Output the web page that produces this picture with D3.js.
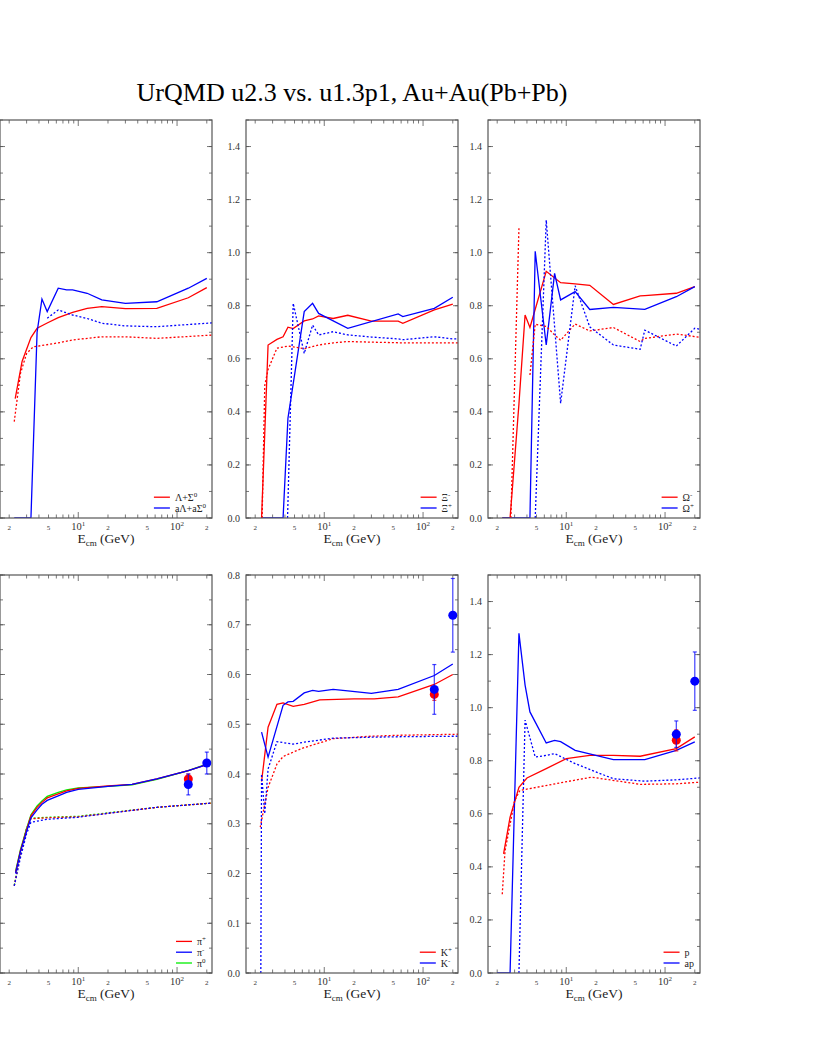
<!DOCTYPE html>
<html>
<head>
<meta charset="utf-8">
<script src="https://cdn.jsdelivr.net/npm/d3@7"></script>
<style>
  body { margin: 0; background: #fff; }
  svg { display: block; font-family: "Liberation Serif", "Times New Roman", serif; }
</style>
</head>
<body>
<svg id="chart" width="817" height="1058"></svg>
<script>
const title = "UrQMD u2.3 vs. u1.3p1, Au+Au(Pb+Pb)";

// [sqrt(s) GeV, ratio] ; solid = u2.3, dotted = u1.3p1
const lamU23 = [[2.3,0.45],[2.7,0.59],[3.32,0.68],[3.83,0.715],[4.85,0.735],[6.27,0.755],[8.77,0.775],[12.3,0.79],[17.3,0.797],[30,0.789],[62.4,0.79],[130,0.83],[200,0.868]];
const aLamU23 = [[2.25,0],[3.32,0],[3.83,0.70],[4.29,0.825],[4.85,0.778],[6.27,0.866],[7.62,0.86],[8.77,0.86],[12.3,0.847],[17.3,0.822],[30,0.809],[62.4,0.815],[130,0.866],[200,0.903]];
const lamU13 = [[2.25,0.363],[2.6,0.545],[3.0,0.62],[3.5,0.645],[6.27,0.66],[8.77,0.671],[17.3,0.683],[30,0.683],[62.4,0.677],[240,0.69]];
const aLamU13 = [[4.85,0.753],[6.27,0.784],[8.77,0.765],[12.3,0.752],[17.3,0.734],[30,0.724],[62.4,0.721],[240,0.736]];

const xiU23 = [[2.32,0],[2.7,0.652],[3.32,0.673],[3.83,0.683],[4.29,0.719],[4.85,0.714],[6.27,0.743],[7.62,0.75],[8.77,0.762],[12.3,0.752],[17.3,0.764],[30,0.742],[56,0.742],[62.4,0.734],[130,0.784],[200,0.806]];
const aXiU23 = [[2.32,0],[3.83,0],[4.29,0.376],[6.27,0.778],[7.62,0.809],[8.77,0.771],[17.3,0.715],[56,0.769],[62.4,0.759],[130,0.79],[200,0.832]];
const xiU13 = [[2.35,0],[2.5,0.5],[2.7,0.56],[3.32,0.64],[4.29,0.648],[4.85,0.645],[6.27,0.638],[8.77,0.652],[12.3,0.66],[17.3,0.665],[62.4,0.66],[130,0.66],[240,0.66]];
const aXiU13 = [[4.25,0],[4.85,0.809],[6.27,0.62],[7.62,0.727],[8.77,0.69],[12.3,0.702],[17.3,0.69],[30,0.682],[56,0.675],[62.4,0.672],[130,0.683],[200,0.675],[240,0.675]];

const omU23 = [[2.25,0],[2.7,0],[3.32,0.43],[3.83,0.765],[4.29,0.718],[6.27,0.93],[8.77,0.887],[12.3,0.882],[17.3,0.877],[30,0.805],[56,0.837],[62.4,0.838],[130,0.847],[200,0.872]];
const aOmU23 = [[2.25,0],[4.29,0],[4.85,1.005],[6.27,0.652],[7.62,0.922],[8.77,0.822],[12.3,0.853],[17.3,0.786],[30,0.794],[62.4,0.786],[130,0.834],[200,0.872]];
const omU13 = [[2.75,0],[3.32,1.092],[3.83,null],[4.29,0.539],[4.85,0.73],[6.27,0.722],[7.62,0.69],[8.77,0.67],[12.3,0.731],[17.3,0.705],[30,0.718],[56,0.665],[62.4,0.677],[130,0.693],[240,0.68]];
const aOmU13 = [[4.85,0],[6.27,1.123],[8.77,0.432],[12.3,0.875],[17.3,0.72],[30,0.652],[56,0.636],[62.4,0.708],[130,0.648],[200,0.715],[240,0.71]];

const piPlusU23 = [[2.32,0.202],[2.6,0.246],[3.0,0.288],[3.32,0.316],[3.83,0.333],[4.29,0.343],[4.85,0.352],[6.27,0.36],[7.62,0.366],[10,0.371],[20,0.376],[35,0.379],[62.4,0.39],[130,0.407],[200,0.419]];
const piMinusU23 = [[2.32,0.2],[2.6,0.244],[3.0,0.285],[3.32,0.312],[3.83,0.328],[4.29,0.339],[4.85,0.347],[6.27,0.356],[7.62,0.363],[10,0.369],[20,0.375],[35,0.379],[62.4,0.39],[130,0.407],[200,0.419]];
const piZeroU23 = [[2.32,0.204],[2.6,0.248],[3.0,0.29],[3.32,0.318],[3.83,0.336],[4.29,0.346],[4.85,0.355],[6.27,0.363],[7.62,0.368],[10,0.372],[20,0.375],[35,0.378],[62.4,0.389],[130,0.407],[200,0.42]];
const piPlusU13 = [[2.25,0.175],[2.6,0.239],[3.0,0.29],[3.32,0.31],[4.85,0.312],[10,0.314],[20,0.321],[62.4,0.333],[240,0.342]];
const piMinusU13 = [[2.25,0.175],[2.6,0.232],[3.0,0.28],[3.32,0.303],[4.85,0.309],[10,0.313],[20,0.321],[62.4,0.333],[240,0.342]];
const piZeroU13 = [[2.25,0.176],[2.6,0.24],[3.0,0.291],[3.32,0.311],[4.85,0.313],[10,0.315],[20,0.322],[62.4,0.333],[240,0.342]];

const kPlusU23 = [[2.32,0.385],[2.7,0.494],[3.32,0.54],[3.83,0.543],[4.85,0.536],[6.27,0.54],[9,0.549],[20,0.551],[32,0.551],[56,0.555],[130,0.58],[200,0.6]];
const kMinusU23 = [[2.32,0.484],[2.7,0.434],[3.83,0.538],[4.29,0.545],[4.85,0.546],[6.27,0.563],[7.62,0.568],[8.77,0.566],[12.3,0.57],[17.3,0.567],[30,0.562],[56,0.57],[130,0.598],[200,0.621]];
const kPlusU13 = [[2.25,0.293],[2.7,0.373],[3.32,0.42],[3.83,0.435],[4.85,0.444],[6.27,0.453],[12.3,0.471],[30,0.476],[62.4,0.478],[240,0.48]];
const kMinusU13 = [[2.28,0],[2.32,0.40],[2.5,0.32],[2.7,0.41],[3.32,0.465],[4.85,0.46],[6.27,0.464],[12.3,0.472],[30,0.474],[62.4,0.475],[240,0.476]];

const pU23 = [[2.32,0.449],[2.7,0.587],[3.32,0.70],[4.0,0.735],[6.27,0.77],[10,0.808],[17.3,0.82],[30,0.82],[56,0.817],[130,0.846],[200,0.89]];
const apU23 = [[2.0,0],[2.7,0],[3.32,1.28],[3.83,1.085],[4.29,0.984],[6.27,0.867],[7.62,0.877],[8.77,0.872],[12.3,0.839],[30,0.804],[62.4,0.804],[130,0.839],[200,0.871]];
const pU13 = [[2.25,0.297],[2.4,0.46],[3.0,0.65],[3.4,0.688],[8.5,0.716],[18,0.738],[56,0.711],[130,0.713],[240,0.72]];
const apU13 = [[3.32,0],[3.83,0.953],[4.85,0.814],[6.27,0.82],[7.62,0.827],[12.3,0.789],[30,0.732],[62.4,0.723],[130,0.728],[240,0.736]];

// measured points [sqrt(s), value, error]
const piPlusData = [[130,0.39,0.01]];
const piMinusData = [[130,0.379,0.021],[200,0.422,0.022]];
const kPlusData = [[130,0.56,0.012]];
const kMinusData = [[130,0.57,0.05],[200,0.719,0.074]];
const pData = [[130,0.877,0.04]];
const apData = [[130,0.9,0.05],[200,1.10,0.11]];

const red = "#ff0000", blue = "#0000ff", green = "#00ee00";

const panels = [
  { col: 0, row: 0, ymax: 1.5, labelStep: 0.2, minorStep: 0.1,
    series: [[lamU23, red, false], [aLamU23, blue, false], [lamU13, red, true], [aLamU13, blue, true]],
    legend: [["Λ+Σ", "0", red], ["aΛ+aΣ", "0", blue]], points: [] },
  { col: 1, row: 0, ymax: 1.5, labelStep: 0.2, minorStep: 0.1,
    series: [[xiU23, red, false], [aXiU23, blue, false], [xiU13, red, true], [aXiU13, blue, true]],
    legend: [["Ξ", "-", red], ["Ξ", "+", blue]], points: [] },
  { col: 2, row: 0, ymax: 1.5, labelStep: 0.2, minorStep: 0.1,
    series: [[omU23, red, false], [aOmU23, blue, false], [omU13, red, true], [aOmU13, blue, true]],
    legend: [["Ω", "-", red], ["Ω", "+", blue]], points: [] },
  { col: 0, row: 1, ymax: 0.8, labelStep: 0.1, minorStep: 0.05,
    series: [[piZeroU13, green, true], [piPlusU13, red, true], [piMinusU13, blue, true],
             [piZeroU23, green, false], [piPlusU23, red, false], [piMinusU23, blue, false]],
    legend: [["π", "+", red], ["π", "-", blue], ["π", "0", green]],
    points: [[piPlusData, red], [piMinusData, blue]] },
  { col: 1, row: 1, ymax: 0.8, labelStep: 0.1, minorStep: 0.05,
    series: [[kPlusU23, red, false], [kMinusU23, blue, false], [kPlusU13, red, true], [kMinusU13, blue, true]],
    legend: [["K", "+", red], ["K", "-", blue]],
    points: [[kPlusData, red], [kMinusData, blue]] },
  { col: 2, row: 1, ymax: 1.5, labelStep: 0.2, minorStep: 0.1,
    series: [[pU23, red, false], [apU23, blue, false], [pU13, red, true], [apU13, blue, true]],
    legend: [["p", "", red], ["ap", "", blue]],
    points: [[pData, red], [apData, blue]] }
];

const colLeft = [0, 246, 488];
const rowTop = [120, 575];
const pw = 212, ph = 398;
const frameColor = "#555";

const svg = d3.select("#chart");

svg.append("text")
  .attr("x", 352).attr("y", 101)
  .attr("text-anchor", "middle")
  .attr("font-size", 26)
  .text(title);

panels.forEach((p, i) => {
  const g = svg.append("g").attr("transform", `translate(${colLeft[p.col]},${rowTop[p.row]})`);
  const x = d3.scaleLog().domain([1.614, 225.8]).range([0, pw]);
  const y = d3.scaleLinear().domain([0, p.ymax]).range([ph, 0]);

  g.append("clipPath").attr("id", "clip" + i)
    .append("rect").attr("width", pw).attr("height", ph);

  // x ticks (inside, bottom and top)
  const xt = x.ticks().filter(v => v >= 1.7);
  const isDecade = v => Math.abs(Math.log10(v) - Math.round(Math.log10(v))) < 1e-6;
  [[ph, -1], [0, 1]].forEach(([y0, dir]) => {
    g.selectAll(null).data(xt).enter().append("line")
      .attr("x1", d => x(d)).attr("x2", d => x(d))
      .attr("y1", y0).attr("y2", d => y0 + dir * (isDecade(d) ? 6 : 3.5))
      .attr("stroke", frameColor).attr("stroke-width", 0.8);
  });
  const xl = xt.filter(v => [2, 5, 20, 50, 200].includes(Math.round(v)) || isDecade(v));
  xl.forEach(v => {
    const t = g.append("text").attr("x", x(v)).attr("y", ph + 12)
      .attr("text-anchor", "middle").attr("fill", "#333");
    if (isDecade(v)) {
      t.attr("font-size", 10.5).text("10");
      t.append("tspan").attr("font-size", 7).attr("dy", -4).text(Math.round(Math.log10(v)));
    } else {
      t.attr("font-size", 7).text(String(Math.round(v)).charAt(0));
    }
  });

  // y ticks (inside, left and right)
  const minor = d3.range(0, p.ymax + 1e-9, p.minorStep);
  const major = d3.range(0, p.ymax + 1e-9, p.labelStep);
  [[0, 1], [pw, -1]].forEach(([x0, dir]) => {
    g.selectAll(null).data(minor).enter().append("line")
      .attr("y1", d => y(d)).attr("y2", d => y(d))
      .attr("x1", x0).attr("x2", x0 + dir * 3)
      .attr("stroke", frameColor).attr("stroke-width", 0.8);
    g.selectAll(null).data(major).enter().append("line")
      .attr("y1", d => y(d)).attr("y2", d => y(d))
      .attr("x1", x0).attr("x2", x0 + dir * 5)
      .attr("stroke", frameColor).attr("stroke-width", 0.8);
  });
  if (p.col > 0) {
    g.selectAll(null).data(major).enter().append("text")
      .attr("x", -6).attr("y", d => y(d) + 3.5)
      .attr("text-anchor", "end").attr("font-size", 10).attr("fill", "#333")
      .text(d => d.toFixed(1));
  }

  // curves
  const line = d3.line()
    .defined(d => d[1] !== null)
    .x(d => x(d[0])).y(d => y(d[1]));
  const plot = g.append("g").attr("clip-path", `url(#clip${i})`);
  p.series.forEach(([data, color, dotted]) => {
    plot.append("path")
      .datum(data)
      .attr("fill", "none")
      .attr("stroke", color)
      .attr("stroke-width", 1.3)
      .attr("stroke-dasharray", dotted ? "2,2" : null)
      .attr("d", line);
  });

  // measured points with error bars
  p.points.forEach(([data, color]) => {
    data.forEach(([e, v, err]) => {
      const cx = x(e);
      plot.append("line").attr("x1", cx).attr("x2", cx)
        .attr("y1", y(v - err)).attr("y2", y(v + err))
        .attr("stroke", color).attr("stroke-width", 1.2).attr("stroke-opacity", 0.75);
      [v - err, v + err].forEach(c => {
        plot.append("line").attr("x1", cx - 2).attr("x2", cx + 2)
          .attr("y1", y(c)).attr("y2", y(c))
          .attr("stroke", color).attr("stroke-width", 1.2).attr("stroke-opacity", 0.75);
      });
      plot.append("circle").attr("cx", cx).attr("cy", y(v)).attr("r", 4.5).attr("fill", color);
    });
  });

  // frame
  g.append("rect").attr("width", pw).attr("height", ph)
    .attr("fill", "none").attr("stroke", frameColor).attr("stroke-width", 1.2);

  // legend
  const n = p.legend.length;
  const lg = g.append("g");
  const texts = p.legend.map(([base, sup, color], k) => {
    const ly = ph - 10 - (n - 1 - k) * 10.8;
    const t = lg.append("text").attr("y", ly + 3.5).attr("font-size", 10).attr("fill", "#222").text(base);
    if (sup) t.append("tspan").attr("font-size", 7).attr("dy", -4).text(sup);
    return [t, ly, color];
  });
  const maxW = d3.max(texts, ([t]) => t.node().getComputedTextLength());
  const tx = pw - 6 - maxW;
  texts.forEach(([t, ly, color]) => {
    t.attr("x", tx);
    lg.append("line").attr("x1", tx - 21).attr("x2", tx - 5)
      .attr("y1", ly).attr("y2", ly)
      .attr("stroke", color).attr("stroke-width", 1.3);
  });

  // axis title
  const at = g.append("text")
    .attr("x", pw / 2).attr("y", ph + 25)
    .attr("text-anchor", "middle").attr("font-size", 13.5).attr("fill", "#222")
    .text("E");
  at.append("tspan").attr("font-size", 9).attr("dy", 3).text("cm");
  at.append("tspan").attr("dy", -3).text(" (GeV)");
});
</script>
</body>
</html>
